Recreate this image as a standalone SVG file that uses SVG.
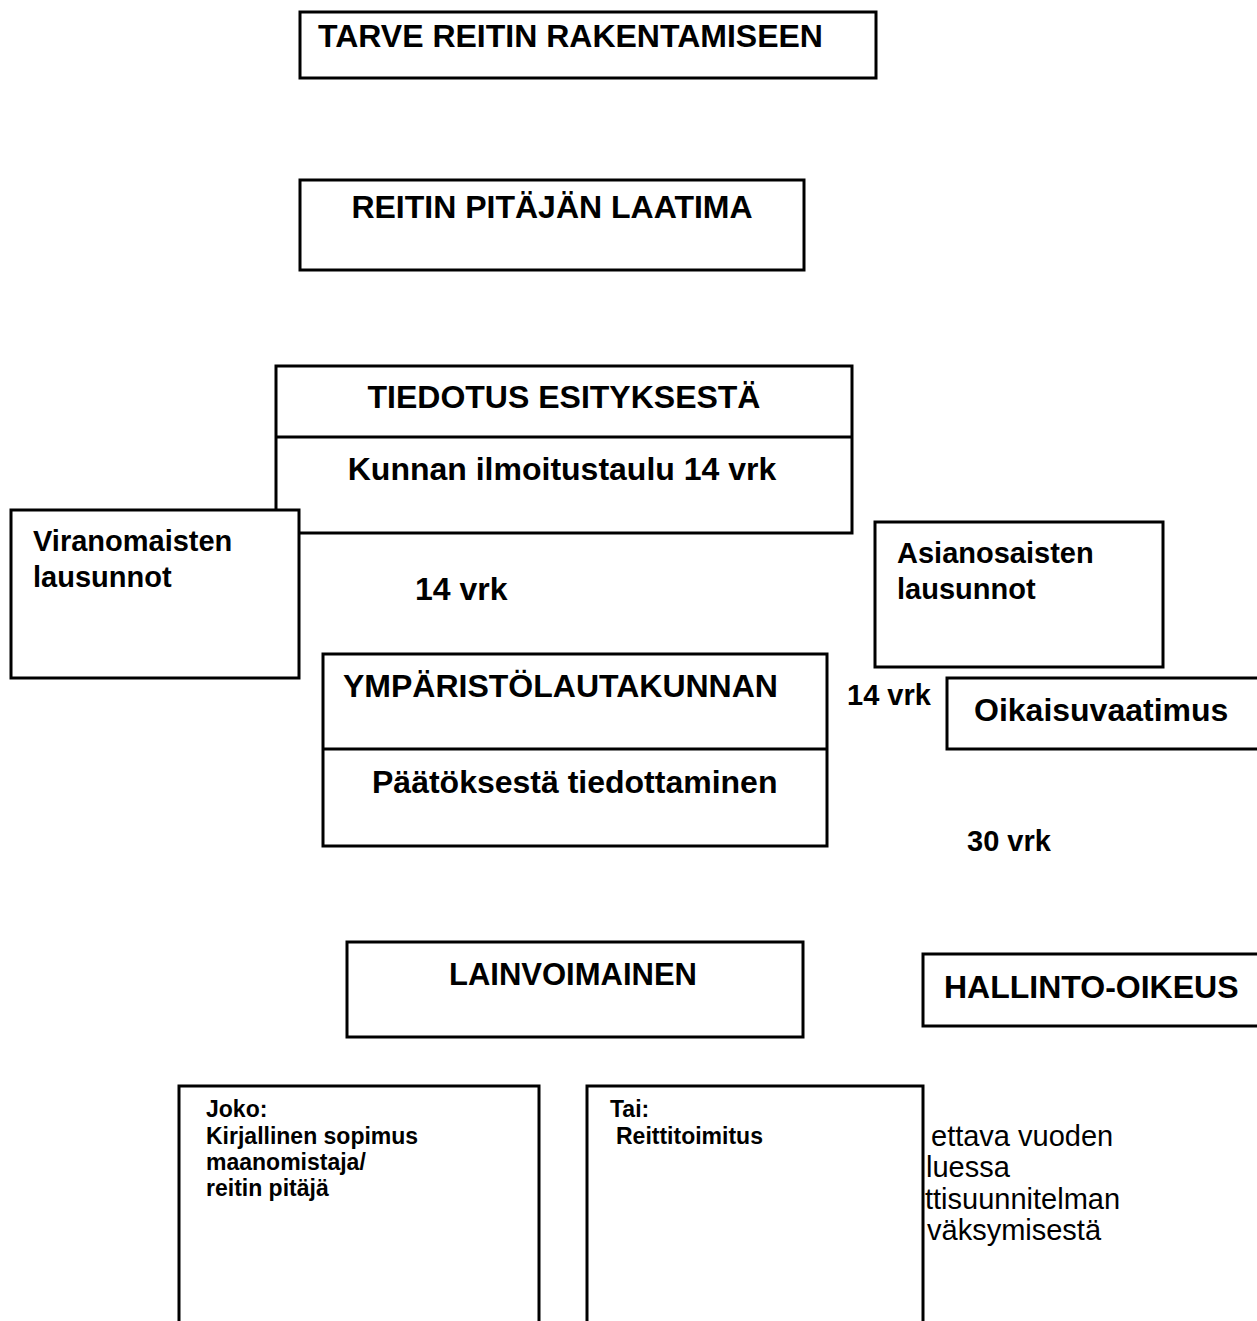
<svg xmlns="http://www.w3.org/2000/svg" width="1257" height="1321" viewBox="0 0 1257 1321">
<style>
.box{fill:#fff;stroke:#000;stroke-width:3}
.div{stroke:#000;stroke-width:3}
.t{font-family:"Liberation Sans",Arial,sans-serif;font-weight:bold;fill:#000}
.big{font-size:32px}
.med{font-size:29px}
.sm{font-size:23px}
.reg{font-family:"Liberation Sans",Arial,sans-serif;font-size:29px;fill:#000}
.c{text-anchor:middle}
</style>
<rect width="1257" height="1321" fill="#fff"/>
<g id="connectors"></g>
<g id="tarve">
<rect class="box" x="300" y="12" width="576" height="66"/>
<text class="t big" x="318" y="47">TARVE REITIN RAKENTAMISEEN</text>
</g>
<g id="laatima">
<rect class="box" x="300" y="180" width="504" height="90"/>
<text class="t big c" x="552" y="218">REITIN PITÄJÄN LAATIMA</text>
</g>
<g id="tiedotus">
<rect class="box" x="276" y="366" width="576" height="167"/>
<line class="div" x1="276" y1="437" x2="852" y2="437"/>
<text class="t big c" x="564" y="408">TIEDOTUS ESITYKSESTÄ</text>
<text class="t big c" x="562" y="480">Kunnan ilmoitustaulu 14 vrk</text>
</g>
<g id="viranomaisten">
<rect class="box" x="11" y="510" width="288" height="168"/>
<text class="t med" x="33" y="551">Viranomaisten</text>
<text class="t med" x="33" y="587">lausunnot</text>
</g>
<g id="label-14a">
<text class="t big" x="415" y="600">14 vrk</text>
</g>
<g id="asianosaisten">
<rect class="box" x="875" y="522" width="288" height="145"/>
<text class="t med" x="897" y="563">Asianosaisten</text>
<text class="t med" x="897" y="599">lausunnot</text>
</g>
<g id="ymparisto">
<rect class="box" x="323" y="654" width="504" height="192"/>
<line class="div" x1="323" y1="749" x2="827" y2="749"/>
<text class="t big" x="343" y="697">YMPÄRISTÖLAUTAKUNNAN</text>
<text class="t big" x="372" y="793">Päätöksestä tiedottaminen</text>
</g>
<g id="label-14b">
<text class="t med" x="847" y="705">14 vrk</text>
</g>
<g id="oikaisu">
<rect class="box" x="947" y="678" width="320" height="71"/>
<text class="t big" x="974" y="721">Oikaisuvaatimus</text>
</g>
<g id="label-30">
<text class="t med" x="967" y="851">30 vrk</text>
</g>
<g id="lainvoimainen">
<rect class="box" x="347" y="942" width="456" height="95"/>
<text class="t c" style="font-size:31px" x="573" y="985">LAINVOIMAINEN</text>
</g>
<g id="hallinto">
<rect class="box" x="923" y="954" width="344" height="72"/>
<text class="t big" x="944" y="998">HALLINTO-OIKEUS</text>
</g>
<g id="note">
<text class="reg" x="931" y="1146">ettava vuoden</text>
<text class="reg" x="926" y="1177">luessa</text>
<text class="reg" x="925" y="1209">ttisuunnitelman</text>
<text class="reg" x="927" y="1240">väksymisestä</text>
</g>
<g id="joko">
<rect class="box" x="179" y="1086" width="360" height="250"/>
<text class="t sm" x="206" y="1117">Joko:</text>
<text class="t sm" x="206" y="1144">Kirjallinen sopimus</text>
<text class="t sm" x="206" y="1170">maanomistaja/</text>
<text class="t sm" x="206" y="1196">reitin pitäjä</text>
</g>
<g id="tai">
<rect class="box" x="587" y="1086" width="336" height="250"/>
<text class="t sm" x="610" y="1117">Tai:</text>
<text class="t sm" x="616" y="1144">Reittitoimitus</text>
</g>
</svg>
